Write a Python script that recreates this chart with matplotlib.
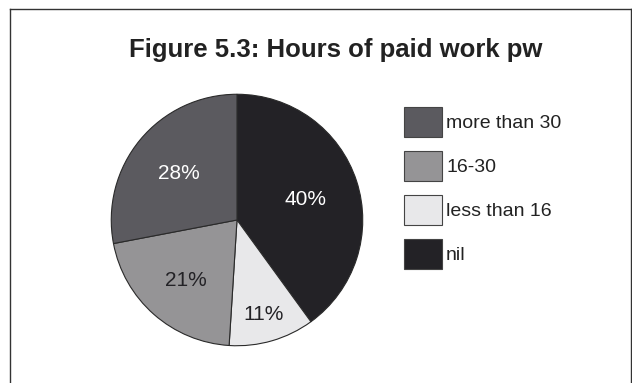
import matplotlib.pyplot as plt
from matplotlib.lines import Line2D
from matplotlib.patches import Rectangle
import numpy as np

# Dados (ordem do grafico, sentido horario a partir do topo).
categorias = ["nil", "less than 16", "16-30", "more than 30"]
valores = [40, 11, 21, 28]
cores = ["#232226", "#e8e8ea", "#959496", "#5b5a5f"]
cores_texto = ["white", "#232226", "#232226", "white"]
distancias_rotulo = [0.57, 0.77, 0.62, 0.6]
ordem_legenda = ["more than 30", "16-30", "less than 16", "nil"]

plt.rcParams["font.family"] = ["Liberation Sans", "DejaVu Sans"]

W, H = 632, 383
fig = plt.figure(figsize=(W / 100, H / 100), dpi=100)


def fx(px):
    return px / W


def fy(py):
    return 1 - py / H


# Moldura: esquerda, topo e direita.
for xs, ys in [([10, 10], [383, 9]), ([10, 632], [9, 9]), ([631, 631], [383, 9])]:
    fig.add_artist(Line2D([fx(x) for x in xs], [fy(y) for y in ys],
                          color="#333333", lw=1.0))

fig.text(fx(336), fy(57), "Figure 5.3: Hours of paid work pw",
         ha="center", va="baseline", fontsize=18.5, fontweight="bold",
         color="#222222")

cx, cy, r = 237, 220, 127
ax = fig.add_axes([fx(cx - r), fy(cy + r), 2 * r / W, 2 * r / H])
wedges, _ = ax.pie(
    valores,
    colors=cores,
    startangle=90,
    counterclock=False,
    radius=1.0,
    wedgeprops={"edgecolor": "#2a2a2a", "linewidth": 0.8},
)
ax.set_xlim(-1.01, 1.01)
ax.set_ylim(-1.01, 1.01)
ax.set_aspect("equal")
ax.axis("off")

for w, v, c, d in zip(wedges, valores, cores_texto, distancias_rotulo):
    ang = np.deg2rad((w.theta1 + w.theta2) / 2)
    ax.text(d * np.cos(ang), d * np.sin(ang), f"{v}%", ha="center",
            va="center_baseline", fontsize=15, color=c)

# Legenda desenhada a mao para acertar tamanho das caixas e espacamento.
cor_por_cat = dict(zip(categorias, cores))
for i, cat in enumerate(ordem_legenda):
    topo = 107 + 44 * i
    fig.add_artist(Rectangle((fx(404), fy(topo + 30)), 38 / W, 30 / H,
                             facecolor=cor_por_cat[cat], edgecolor="#444444",
                             lw=0.8, transform=fig.transFigure))
    fig.text(fx(446), fy(topo + 21), cat, ha="left", va="baseline",
             fontsize=14, color="#222222")

fig.savefig("out.png", dpi=100)
plt.close(fig)
